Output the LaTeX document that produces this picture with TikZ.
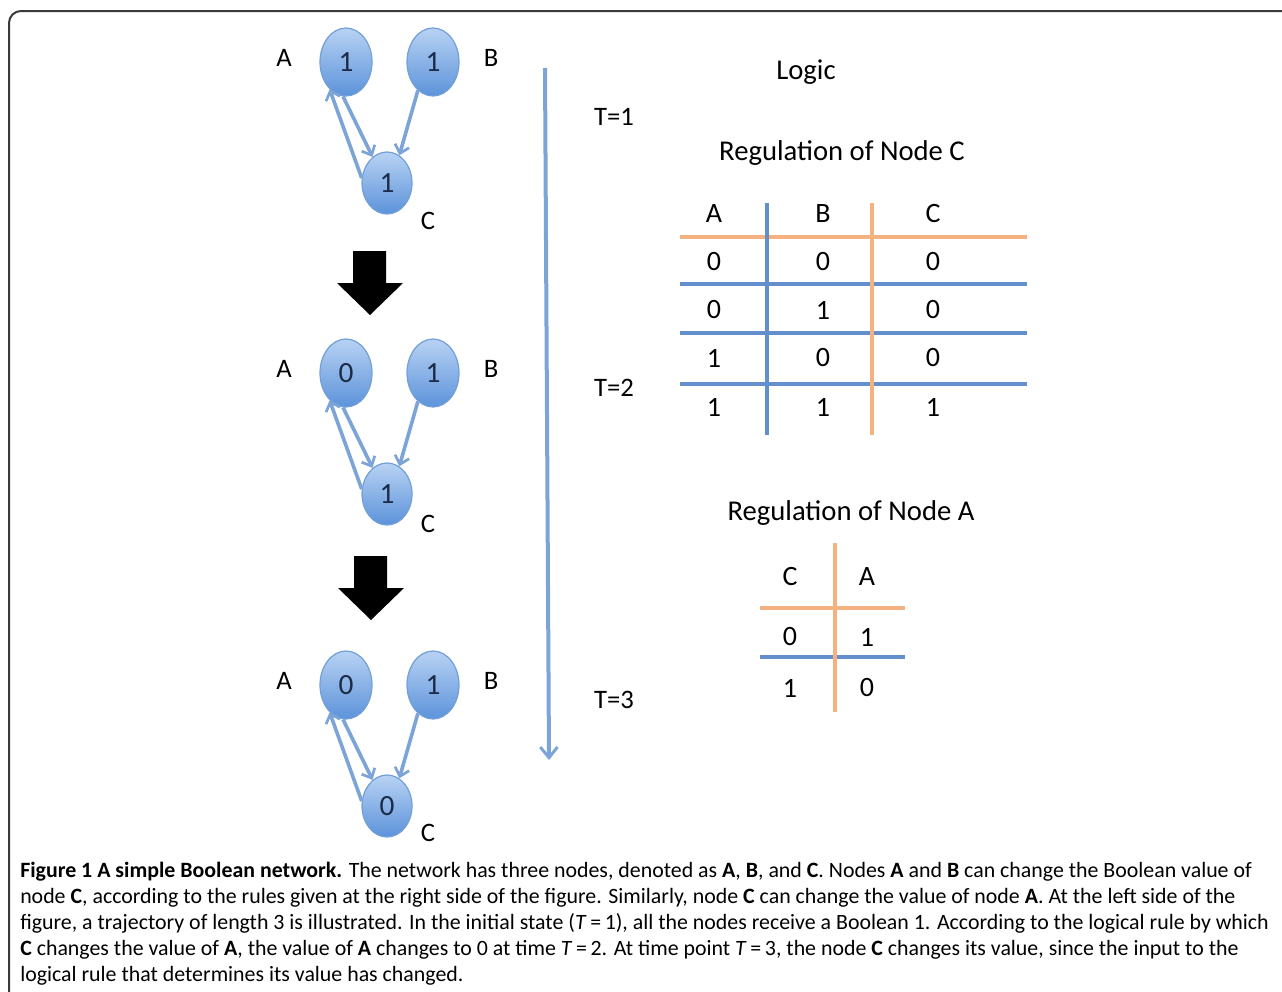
\documentclass[tikz,border=0pt]{standalone}
\usepackage{fontspec}
\setmainfont{Carlito}
\usetikzlibrary{arrows.meta,shapes.geometric}

\definecolor{nodeTop}{HTML}{B8D2F3}
\definecolor{nodeBot}{HTML}{5C93DA}
\definecolor{nodeEdge}{HTML}{729FD8}
\definecolor{edgeBlue}{HTML}{7DA4D6}
\definecolor{lineBlue}{HTML}{6390CC}
\definecolor{lineOrange}{HTML}{F3B27F}
\definecolor{digitNavy}{HTML}{1C2B48}
\definecolor{frameGray}{HTML}{3A3A3A}

\tikzset{
  bnode/.style={ellipse, draw=nodeEdge, line width=0.9pt, top color=nodeTop,
    bottom color=nodeBot, minimum width=39pt, minimum height=51pt, inner sep=0pt,
    font=\fontsize{22}{22}\selectfont, text=digitNavy},
  cnode/.style={bnode, minimum width=37.5pt, minimum height=46.5pt},
  lab/.style={inner sep=0pt, font=\fontsize{20}{20}\selectfont},
  edge/.style={draw=edgeBlue, line width=2.7pt,
    -{Straight Barb[length=6pt,width=11pt,line width=2pt]}},
  timeline/.style={draw=edgeBlue, line width=3pt,
    -{Straight Barb[length=8pt,width=13pt,line width=2.2pt]}},
  tblue/.style={draw=lineBlue, line width=2.6pt},
  torange/.style={draw=lineOrange, line width=2.6pt},
  cell/.style={inner sep=0pt, font=\fontsize{21}{21}\selectfont},
  heading/.style={inner sep=0pt, font=\fontsize{21.5}{21.5}\selectfont},
  capline/.style={anchor=base west, inner sep=0pt, font=\fontsize{16.4}{19.7}\selectfont},
  bigarrow/.style={fill=black}
}

% one state of the three-node network, shifted down by #1; #6 is the y of label C
\newcommand\boolnet[6]{%
  \begin{scope}[shift={(0,#1)}]
    \node[bnode] (A#2) at (346,62) {#3};
    \node[bnode] (B#2) at (433,62) {#4};
    \node[cnode] (C#2) at (387,183) {#5};
    \node[lab] (lA#2) at (284,58) {A};
    \node[lab] (lB#2) at (491,58) {B};
    \draw[edge] (A#2.265) -- (C#2.119);
    \draw[edge] (C#2.169) -- (A#2.239);
    \draw[edge] (B#2.242) -- (C#2.66);
  \end{scope}
  \node[lab] (lC#2) at (428,#6) {C};}

% thick downward block arrow between states, shifted by (#1,#2)
\newcommand\stepdown[2]{%
  \begin{scope}[shift={(#1,#2)}]
    \fill[bigarrow] (353,251) -- (386,251) -- (386,283) -- (403,283) -- (370,315)
      -- (337,283) -- (353,283) -- cycle;
  \end{scope}}

\begin{document}
\begin{tikzpicture}[x=0.75pt,y=-0.75pt]
  \useasboundingbox (0,0) rectangle (1282,992);

  % frame
  \draw[frameGray, line width=1.5pt, rounded corners=9pt] (9,995) -- (9,11) -- (1285,11);

  % network states
  \boolnet{0}{1}{1}{1}{1}{221}
  \boolnet{311}{2}{0}{1}{1}{524}
  \boolnet{623}{3}{0}{1}{0}{833}

  \stepdown{0}{0}
  \stepdown{1}{305}

  % time axis
  \coordinate (tTop) at (545,68);
  \coordinate (tEnd) at (549,760);
  \draw[timeline] (tTop) -- (tEnd);
  \node[lab] (t1) at (614,117) {T=1};
  \node[lab] (t2) at (614,388) {T=2};
  \node[lab] (t3) at (614,700) {T=3};

  % logic tables
  \node[heading] (logic) at (806,72) {Logic};
  \node[heading] (regC) at (842,153) {Regulation of Node C};

  \draw[torange] (680,237) -- (1027,237);
  \draw[tblue] (680,284) -- (1027,284);
  \draw[tblue] (680,333) -- (1027,333);
  \draw[tblue] (680,384) -- (1027,384);
  \draw[tblue] (767,203) -- (767,435);
  \draw[torange] (872,203) -- (872,435);

  \node[cell] (hA) at (714,214) {A};
  \node[cell] (hB) at (823,214) {B};
  \node[cell] (hC) at (933,214) {C};
  \node[cell] (r1a) at (714,262) {0}; \node[cell] (r1b) at (823,262) {0}; \node[cell] (r1c) at (933,262) {0};
  \node[cell] (r2a) at (714,310) {0}; \node[cell] (r2b) at (823,310) {1}; \node[cell] (r2c) at (933,310) {0};
  \node[cell] (r3a) at (714,358) {1}; \node[cell] (r3b) at (823,358) {0}; \node[cell] (r3c) at (933,358) {0};
  \node[cell] (r4a) at (714,407) {1}; \node[cell] (r4b) at (823,407) {1}; \node[cell] (r4c) at (933,407) {1};

  \node[heading] (regA) at (851,513) {Regulation of Node A};
  \draw[torange] (760,608) -- (905,608);
  \draw[tblue] (760,657) -- (905,657);
  \draw[torange] (835,543) -- (835,712);
  \node[cell] (gC) at (790,577) {C};
  \node[cell] (gA) at (867,577) {A};
  \node[cell] (s1c) at (790,637) {0}; \node[cell] (s1a) at (867,637) {1};
  \node[cell] (s2c) at (790,688) {1}; \node[cell] (s2a) at (867,688) {0};

  % caption
  \node[capline] (cap1) at (20,877) {\textbf{Figure 1 A simple Boolean network.} The network has three nodes, denoted as \textbf{A}, \textbf{B}, and \textbf{C}. Nodes \textbf{A} and \textbf{B} can change the Boolean value of};
  \node[capline] (cap2) at (20,903) {node \textbf{C}, according to the rules given at the right side of the figure. Similarly, node \textbf{C} can change the value of node \textbf{A}. At the left side of the};
  \node[capline] (cap3) at (20,929) {figure, a trajectory of length 3 is illustrated. In the initial state (\textit{T}\,=\,1), all the nodes receive a Boolean 1. According to the logical rule by which};
  \node[capline] (cap4) at (20,955) {\textbf{C} changes the value of \textbf{A}, the value of \textbf{A} changes to 0 at time \textit{T}\,=\,2. At time point \textit{T}\,=\,3, the node \textbf{C} changes its value, since the input to the};
  \node[capline] (cap5) at (20,981) {logical rule that determines its value has changed.};
\end{tikzpicture}
\end{document}
